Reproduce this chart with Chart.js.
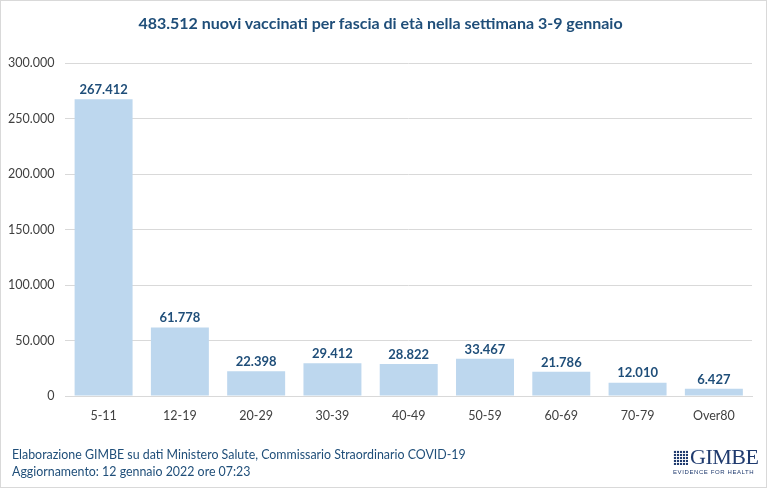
<!DOCTYPE html>
<html>
<head>
<meta charset="utf-8">
<script src="https://cdn.jsdelivr.net/npm/chart.js@4"></script>
<style>
  html, body { margin: 0; padding: 0; background: #fff; }
  #wrap {
    position: relative;
    width: 765px;
    height: 486px;
    border: 1px solid #d9d9d9;
    font-family: Lato, "Open Sans", sans-serif;
  }
  #c { position: absolute; left: 0; top: 0; }
  #titolo {
    position: absolute;
    left: 0;
    width: 759px;
    top: 12px;
    text-align: center;
    font-size: 16px;
    font-weight: bold;
    color: #1f4e79;
  }
  .fonte {
    position: absolute;
    left: 11px;
    font-size: 12.4px;
    color: #1f4e79;
  }
  #logo {
    position: absolute;
    left: 672px;
    top: 445px;
    color: #1f3a6e;
  }
  #logo .ico {
    display: inline-block;
    width: 15px;
    height: 15px;
    vertical-align: top;
    margin-top: 4px;
    margin-right: 2px;
    background-image:
      linear-gradient(90deg, rgba(255,255,255,.9) 1px, transparent 1px),
      linear-gradient(rgba(255,255,255,.9) 1px, transparent 1px);
    background-size: 3px 3px;
    background-color: #1f3a6e;
  }
  #logo .nome {
    font-family: "Liberation Serif", "DejaVu Serif", serif;
    font-size: 22px;
    line-height: 22px;
    letter-spacing: -0.5px;
  }
  #logo .motto {
    font-family: "Liberation Sans", sans-serif;
    font-size: 6px;
    letter-spacing: 0.6px;
    margin-top: 1px;
  }
</style>
</head>
<body>
<div id="wrap">
  <canvas id="c" width="765" height="486"></canvas>
  <div id="titolo"></div>
  <div class="fonte" style="top:446px">Elaborazione GIMBE su dati Ministero Salute, Commissario Straordinario COVID-19</div>
  <div class="fonte" style="top:463px">Aggiornamento: 12 gennaio 2022 ore 07:23</div>
  <div id="logo"><span class="ico"></span><span class="nome">GIMBE</span><div class="motto">EVIDENCE FOR HEALTH</div></div>
</div>
<script>
const titolo = "483.512 nuovi vaccinati per fascia di età nella settimana 3-9 gennaio";
const fasce = ["5-11", "12-19", "20-29", "30-39", "40-49", "50-59", "60-69", "70-79", "Over80"];
const vaccinati = [267412, 61778, 22398, 29412, 28822, 33467, 21786, 12010, 6427];

const blu = "#1f4e79";

document.getElementById("titolo").textContent = titolo;

function formatta(n) {
    return String(n).replace(/\B(?=(\d{3})+(?!\d))/g, ".");
}

// etichette sopra le barre
const etichette = {
    id: "etichette",
    afterDatasetsDraw(chart) {
        const ctx = chart.ctx;
        const meta = chart.getDatasetMeta(0);
        ctx.save();
        ctx.font = "bold 13px Lato, sans-serif";
        ctx.fillStyle = blu;
        ctx.textAlign = "center";
        ctx.textBaseline = "bottom";
        meta.data.forEach((bar, i) => {
            ctx.fillText(formatta(vaccinati[i]), bar.x, bar.y - 3);
        });
        ctx.restore();
    }
};

new Chart(document.getElementById("c"), {
    type: "bar",
    data: {
        labels: fasce,
        datasets: [{
            data: vaccinati,
            backgroundColor: "#bdd7ee",
            categoryPercentage: 1,
            barPercentage: 0.76
        }]
    },
    options: {
        responsive: false,
        animation: false,
        layout: {
            padding: { left: -4, right: 14, top: 62, bottom: 60 }
        },
        plugins: {
            legend: { display: false },
            tooltip: { enabled: false },
            title: { display: false }
        },
        scales: {
            x: {
                grid: { display: false },
                border: { color: "#d9d9d9" },
                ticks: {
                    color: "#404040",
                    font: { family: "Lato, sans-serif", size: 12.5 },
                    padding: 4
                }
            },
            y: {
                min: 0,
                max: 300000,
                grid: { color: "#d9d9d9", drawTicks: false },
                border: { display: false },
                ticks: {
                    stepSize: 50000,
                    color: "#404040",
                    font: { family: "Lato, sans-serif", size: 12.5 },
                    padding: 11,
                    callback: v => formatta(v)
                }
            }
        }
    },
    plugins: [etichette]
});
</script>
</body>
</html>
